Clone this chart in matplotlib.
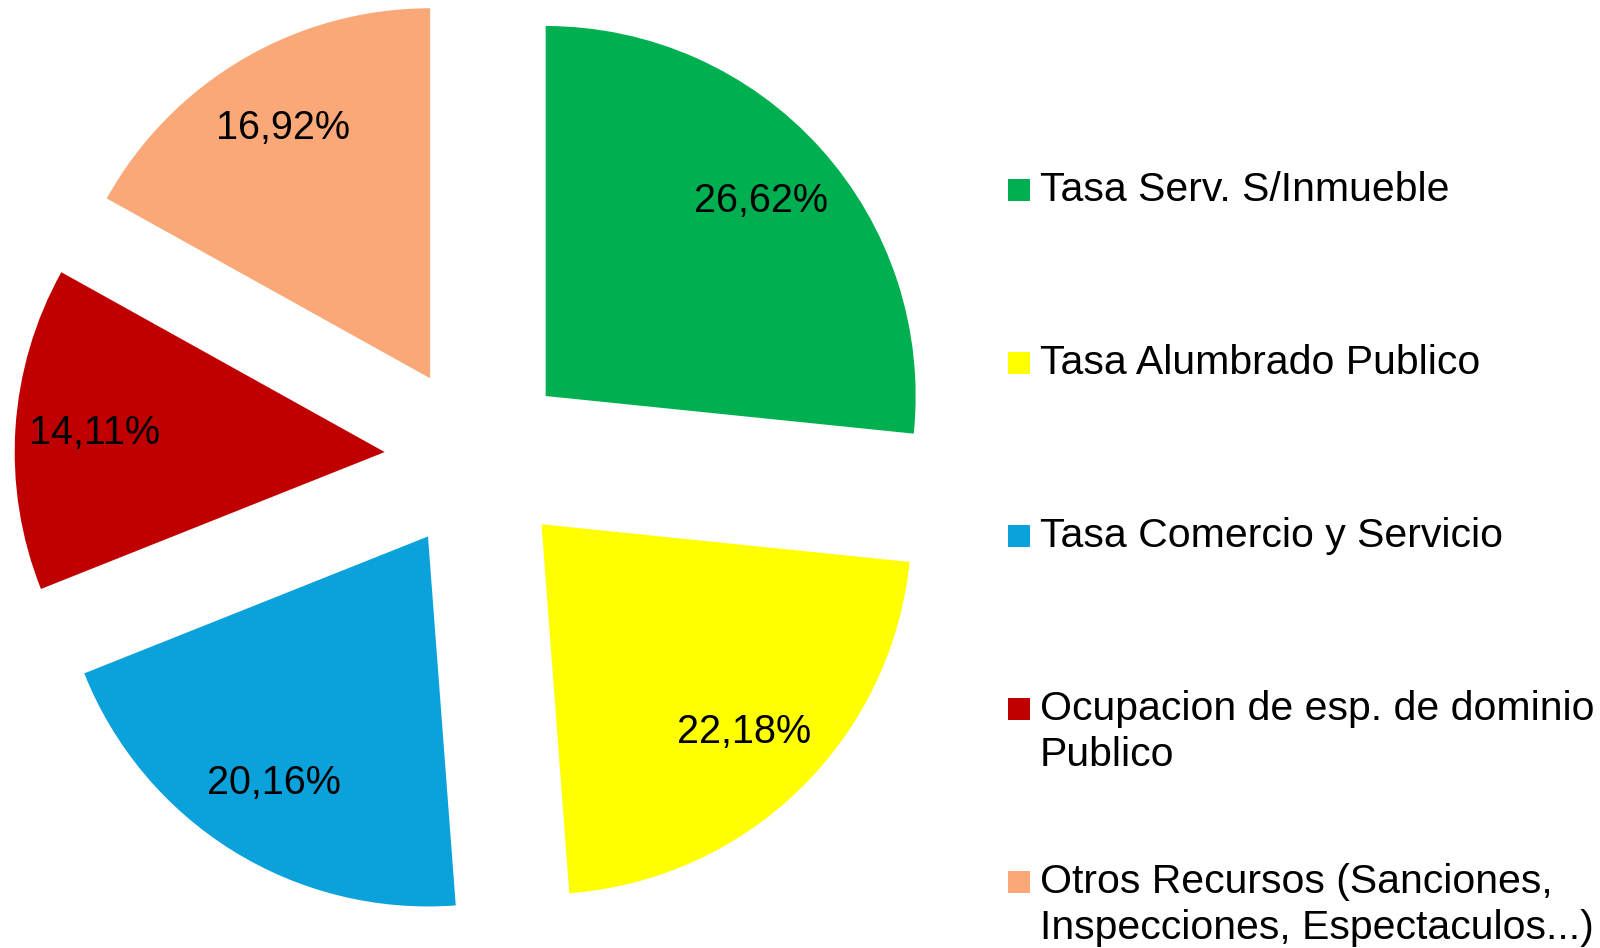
import numpy as np
import matplotlib
matplotlib.use('Agg')
import matplotlib.pyplot as plt
from matplotlib.patches import Rectangle

plt.rcParams['font.family'] = ['Liberation Sans', 'DejaVu Sans']

# datos del grafico
categorias = ['Tasa Serv. S/Inmueble',
              'Tasa Alumbrado Publico',
              'Tasa Comercio y Servicio',
              'Ocupacion de esp. de dominio\nPublico',
              'Otros Recursos (Sanciones,\nInspecciones, Espectaculos...)']
valores = [26.62, 22.18, 20.16, 14.11, 16.92]
colores = ['#00B050', '#FFFF00', '#0BA1DA', '#C00000', '#FAA878']

W, H = 1600, 948
fig = plt.figure(figsize=(W / 100, H / 100), dpi=100)

# pie center and radius in pixels
cx, cy, r = 477, 458, 370
ax = fig.add_axes([0, 0, 1, 1])

wedges, texts = ax.pie(valores, colors=colores, startangle=90, counterclock=False,
                       explode=[0.25] * len(valores), radius=1,
                       labels=[f'{v:.2f}%'.replace('.', ',') for v in valores],
                       labeldistance=0.785,
                       textprops={'fontsize': 28.5, 'ha': 'center', 'va': 'center'})
ax.set_aspect('auto')
ax.set_xlim(-cx / r, (W - cx) / r)
ax.set_ylim(-(H - cy) / r, cy / r)
ax.axis('off')

# legend drawn by hand: entries are spaced by their first line, like Excel
paso = 173
for i, (cat, col) in enumerate(zip(categorias, colores)):
    base = 201 + i * paso
    fig.patches.append(Rectangle((1008 / W, 1 - base / H), 22 / W, 22 / H,
                                 transform=fig.transFigure, facecolor=col,
                                 edgecolor='none'))
    fig.text(1040 / W, 1 - (base - 30) / H, cat, fontsize=29.5, va='top', ha='left',
             linespacing=1.28)

fig.savefig('out.png', dpi=100)
